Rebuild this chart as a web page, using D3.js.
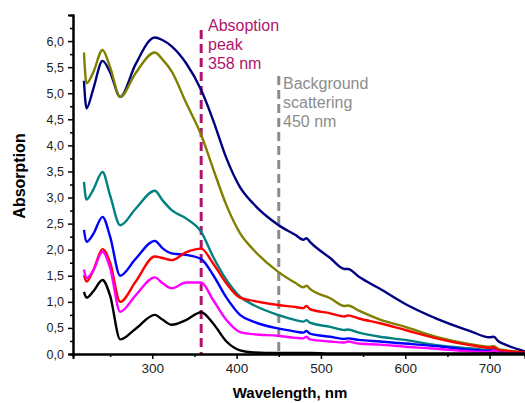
<!DOCTYPE html>
<html>
<head>
<meta charset="utf-8">
<script src="https://cdn.jsdelivr.net/npm/d3@7"></script>
<style>
  body { margin: 0; background: #fff; }
  svg { display: block; font-family: "Liberation Sans", Arial, sans-serif; }
</style>
</head>
<body>
<svg width="525" height="403"></svg>
<script>
// wavelength grid (nm), shared by all spectra
var wavelengths = [219, 222, 230, 241, 250, 262, 280, 303, 312, 323, 340, 358, 372, 388, 404, 420, 449, 470, 479, 483, 487, 511, 528, 532, 545, 570, 600, 637, 677, 700, 705, 710, 720, 742];

var navy    = [5.24, 4.71, 5.08, 5.62, 5.40, 4.93, 5.55, 6.07, 6.02, 5.90, 5.58, 5.06, 4.49, 3.75, 3.20, 2.88, 2.48, 2.28, 2.19, 2.22, 2.15, 1.84, 1.63, 1.63, 1.48, 1.25, 0.96, 0.68, 0.44, 0.32, 0.33, 0.25, 0.17, 0.05];
var olive   = [5.78, 5.19, 5.40, 5.83, 5.50, 4.93, 5.38, 5.78, 5.65, 5.42, 4.82, 4.20, 3.56, 2.85, 2.32, 2.00, 1.58, 1.36, 1.28, 1.31, 1.25, 1.07, 0.92, 0.93, 0.83, 0.66, 0.52, 0.33, 0.19, 0.14, 0.15, 0.10, 0.07, 0.03];
var teal    = [3.30, 2.96, 3.15, 3.49, 3.04, 2.47, 2.78, 3.13, 2.95, 2.76, 2.60, 2.34, 1.87, 1.42, 1.10, 0.94, 0.75, 0.65, 0.62, 0.65, 0.60, 0.52, 0.46, 0.47, 0.41, 0.33, 0.27, 0.17, 0.11, 0.08, 0.09, 0.06, 0.05, 0.03];
var blue    = [2.38, 2.15, 2.30, 2.63, 2.25, 1.50, 1.82, 2.17, 2.03, 1.93, 1.90, 1.82, 1.52, 1.08, 0.75, 0.62, 0.49, 0.43, 0.41, 0.44, 0.39, 0.33, 0.29, 0.30, 0.27, 0.24, 0.20, 0.15, 0.08, 0.06, 0.08, 0.05, 0.04, 0.02];
var red     = [1.51, 1.39, 1.60, 2.01, 1.75, 1.00, 1.38, 1.87, 1.84, 1.80, 1.95, 2.02, 1.74, 1.35, 1.08, 1.02, 0.94, 0.90, 0.88, 0.92, 0.86, 0.78, 0.72, 0.74, 0.68, 0.59, 0.46, 0.30, 0.17, 0.12, 0.13, 0.08, 0.06, 0.03];
var magenta = [1.62, 1.45, 1.60, 1.96, 1.65, 0.81, 1.12, 1.47, 1.36, 1.26, 1.37, 1.37, 1.04, 0.65, 0.42, 0.38, 0.35, 0.31, 0.30, 0.33, 0.28, 0.24, 0.22, 0.24, 0.20, 0.18, 0.14, 0.10, 0.05, 0.04, 0.07, 0.03, 0.02, 0.01];
var black   = [1.19, 1.08, 1.20, 1.42, 1.12, 0.28, 0.48, 0.75, 0.66, 0.56, 0.65, 0.80, 0.59, 0.24, 0.07, 0.03, 0.02, 0.02, 0.02, 0.02, 0.02, 0.01, 0.01, 0.01, 0.01, 0.01, 0.01, 0.01, 0.01, 0.01, 0.02, 0.01, 0.01, 0.01];

var seriesNames  = ["navy", "olive", "teal", "blue", "red", "magenta", "black"];
var seriesValues = [navy, olive, teal, blue, red, magenta, black];
var seriesColors = ["#000080", "#808000", "#008080", "#0000ff", "#ff0000", "#ff00ff", "#000000"];

var xTicks = [300, 400, 500, 600, 700];
var yTicks = [0, 0.5, 1, 1.5, 2, 2.5, 3, 3.5, 4, 4.5, 5, 5.5, 6];

var markers = [
  { nm: 358, color: "#b0146c", top: 30, lines: ["Absoption", "peak", "358 nm"], tx: 208, ty: 31 },
  { nm: 450, color: "#8c8c8c", top: 76, lines: ["Background", "scattering", "450 nm"], tx: 283, ty: 89 }
];

var svg = d3.select("svg");

var x = d3.scaleLinear().domain([206, 742]).range([73, 525]);
var y = d3.scaleLinear().domain([0, 6.5]).range([354, 15]);

var fmt = function(d) { return d3.format(".1f")(d).replace(".", ","); };

// dashed marker lines
markers.forEach(function(m) {
  svg.append("line")
    .attr("x1", x(m.nm)).attr("x2", x(m.nm))
    .attr("y1", m.top).attr("y2", y(0))
    .attr("stroke", m.color)
    .attr("stroke-width", 3)
    .attr("stroke-dasharray", "9,5");
});

// spectra
var line = d3.line()
  .x(function(d, i) { return x(wavelengths[i]); })
  .y(function(d) { return y(d); })
  .curve(d3.curveMonotoneX);

svg.selectAll("path.spec")
  .data(seriesValues)
  .enter()
  .append("path")
  .attr("class", "spec")
  .attr("fill", "none")
  .attr("stroke", function(d, i) { return seriesColors[i]; })
  .attr("stroke-width", 2.4)
  .attr("stroke-linejoin", "round")
  .attr("d", line);

// axes
var xAxis = svg.append("g")
  .attr("transform", "translate(0," + y(0) + ")")
  .call(d3.axisBottom(x).tickValues(xTicks).tickSize(5).tickPadding(4));
svg.append("g")
  .attr("transform", "translate(0," + y(0) + ")")
  .call(d3.axisBottom(x).tickValues([250, 350, 450, 550, 650]).tickSize(3).tickFormat(""));

var yAxis = svg.append("g")
  .attr("transform", "translate(" + x(206) + ",0)")
  .call(d3.axisLeft(y).tickValues(yTicks).tickSize(5).tickPadding(4).tickFormat(fmt));
svg.append("g")
  .attr("transform", "translate(" + x(206) + ",0)")
  .call(d3.axisLeft(y).tickValues(d3.range(0.25, 6.6, 0.5)).tickSize(3).tickFormat(""));

svg.selectAll(".domain").attr("stroke", "#000").attr("stroke-width", 2);
svg.selectAll(".tick line").attr("stroke", "#000").attr("stroke-width", 1.5);
xAxis.selectAll("text").attr("font-size", 13.5).attr("fill", "#222");
yAxis.selectAll("text").attr("font-size", 12.5).attr("fill", "#222");

// marker labels
markers.forEach(function(m) {
  var t = svg.append("text")
    .attr("x", m.tx).attr("y", m.ty)
    .attr("fill", m.color)
    .attr("font-size", 16);
  m.lines.forEach(function(s, i) {
    t.append("tspan").attr("x", m.tx).attr("dy", i === 0 ? 0 : 19).text(s);
  });
});

// axis titles
svg.append("text")
  .attr("x", 290).attr("y", 398)
  .attr("text-anchor", "middle")
  .attr("font-weight", "bold")
  .attr("font-size", 15)
  .text("Wavelength, nm");

svg.append("text")
  .attr("transform", "translate(25,176) rotate(-90)")
  .attr("text-anchor", "middle")
  .attr("font-weight", "bold")
  .attr("font-size", 16)
  .text("Absorption");
</script>
</body>
</html>
